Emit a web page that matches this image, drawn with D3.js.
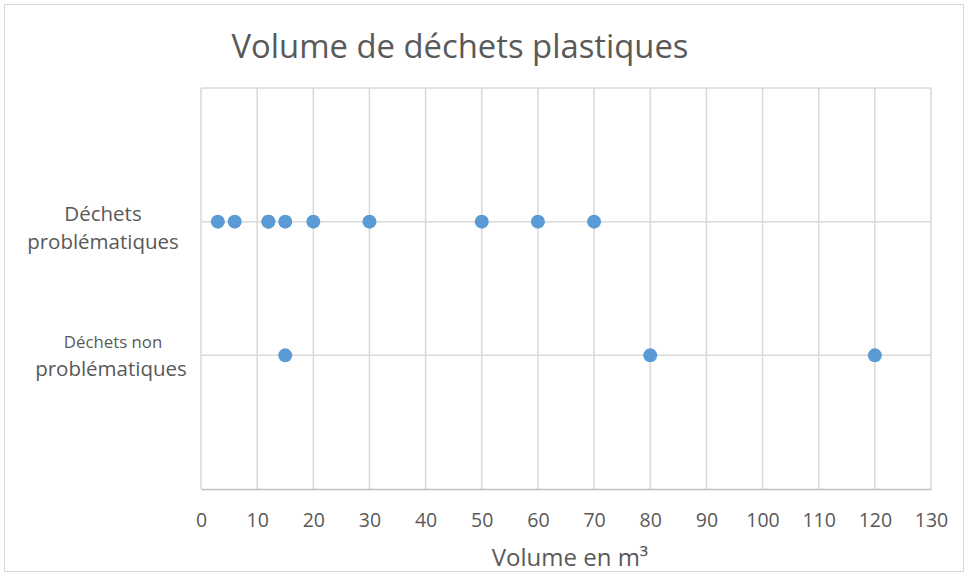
<!DOCTYPE html>
<html><head><meta charset="utf-8">
<script src="https://cdn.jsdelivr.net/npm/d3@7"></script>
<style>body{margin:0;background:#fff;} text{font-family:"Open Sans",Lato,sans-serif;fill:#595959;}</style>
</head><body>
<svg id="chart" width="969" height="576"></svg>
<script>
const title = "Volume de déchets plastiques";
const xTitle = "Volume en m³";
const categories = ["Déchets problématiques", "Déchets non problématiques"];
const categoryY = [2, 1];
const problematiques = [3, 6, 12, 12, 15, 20, 30, 50, 60, 70];
const nonProblematiques = [15, 80, 120];
const xTicks = [0,10,20,30,40,50,60,70,80,90,100,110,120,130];
const yGrid = [0,1,2,3];

const svg = d3.select("#chart");
const m = {left:201, right:931, top:88, bottom:489};
const x = d3.scaleLinear().domain([0,130]).range([m.left, m.right]);
const y = d3.scaleLinear().domain([0,3]).range([m.bottom, m.top]);

svg.append("rect").attr("x",4.5).attr("y",4.5).attr("width",959).attr("height",567)
  .attr("fill","#fff").attr("stroke","#d9d9d9").attr("stroke-width",1);

svg.append("text").attr("x",460).attr("y",58).attr("text-anchor","middle")
  .style("font-size","32.8px").text(title);

// vertical gridlines
svg.append("g").selectAll("line").data(xTicks).join("line")
  .attr("x1",d=>x(d)).attr("x2",d=>x(d)).attr("y1",m.top).attr("y2",m.bottom)
  .attr("stroke","#d9d9d9").attr("stroke-width",1.5);
// horizontal gridlines
svg.append("g").selectAll("line").data(yGrid.filter(d=>d>0)).join("line")
  .attr("x1",m.left).attr("x2",m.right).attr("y1",d=>y(d)).attr("y2",d=>y(d))
  .attr("stroke","#d9d9d9").attr("stroke-width",1.5);

// x axis
const xAxis = d3.axisBottom(x).tickValues(xTicks).tickSize(0).tickPadding(0);
const gx = svg.append("g").attr("transform",`translate(0,${m.bottom})`).call(xAxis);
gx.select(".domain").attr("stroke","#bfbfbf").attr("stroke-width",1.5);
gx.selectAll("text").attr("dy",0).attr("y",38).style("font-size","19.5px").style("fill","#595959")
  .style("font-family","'Open Sans',sans-serif");

svg.append("text").attr("x",570).attr("y",566).attr("text-anchor","middle")
  .style("font-size","24px").text(xTitle);

// category labels
const lab1 = svg.append("text").attr("text-anchor","middle");
lab1.append("tspan").attr("x",103).attr("y",221).style("font-size","20.5px").text("Déchets");
lab1.append("tspan").attr("x",103).attr("y",249).style("font-size","20.5px").text("problématiques");
const lab2 = svg.append("text").attr("text-anchor","middle");
lab2.append("tspan").attr("x",113).attr("y",348).style("font-size","16.8px").text("Déchets non");
lab2.append("tspan").attr("x",111).attr("y",376).style("font-size","20.5px").text("problématiques");

const pts = [
  ...problematiques.map(v=>({v, c:categoryY[0]})),
  ...nonProblematiques.map(v=>({v, c:categoryY[1]}))
];
svg.append("g").selectAll("circle").data(pts).join("circle")
  .attr("cx",d=>x(d.v)).attr("cy",d=>y(d.c)).attr("r",7)
  .attr("fill","#5b9bd5");
</script>
</body></html>
